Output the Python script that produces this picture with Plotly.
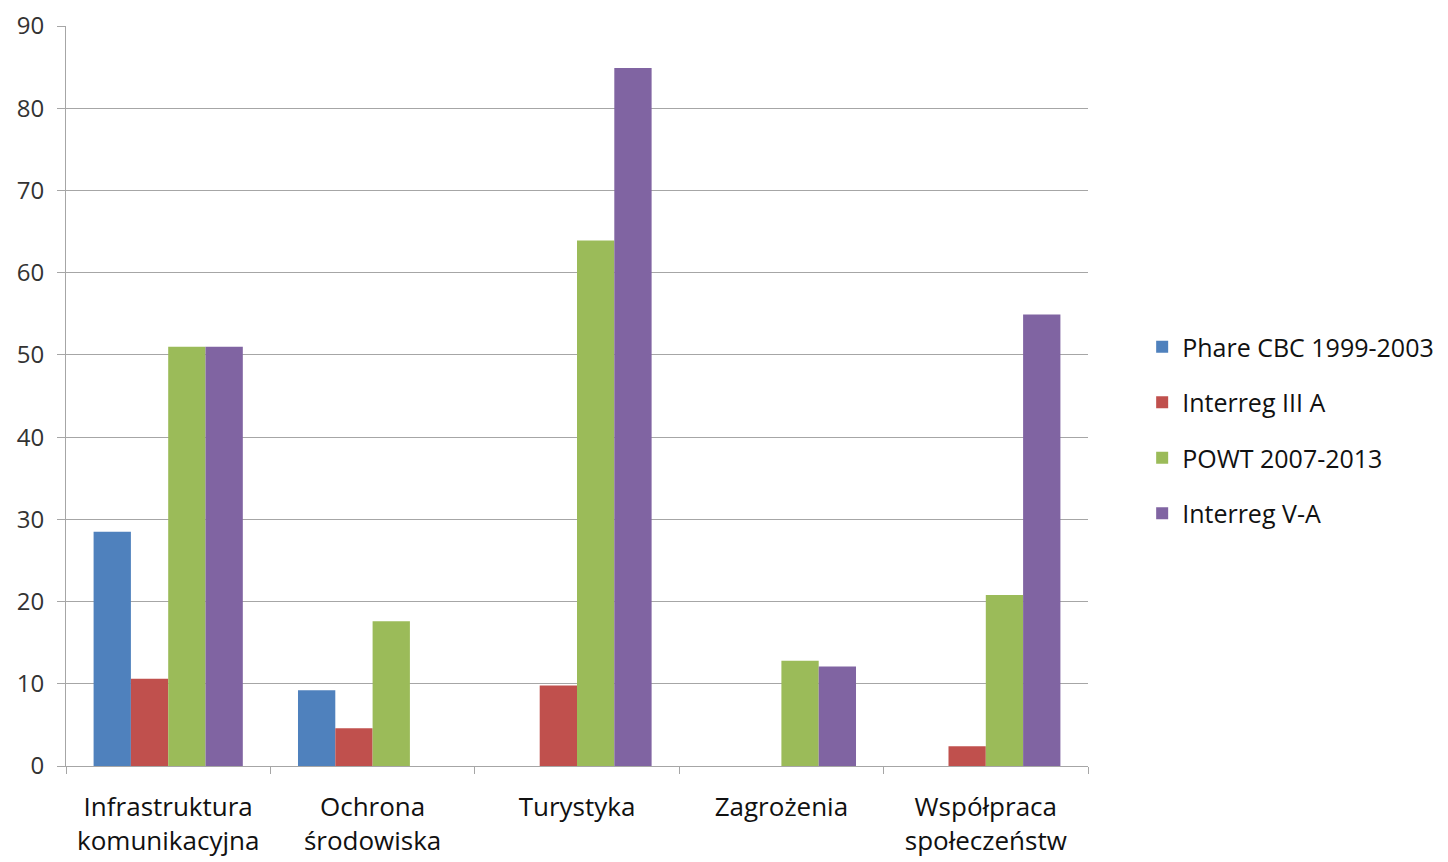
import plotly.graph_objects as go

categories = ['Infrastruktura<br>komunikacyjna', 'Ochrona<br>środowiska', 'Turystyka',
              'Zagrożenia', 'Współpraca<br>społeczeństw']
phare = [28.5, 9.2, 0, 0, 0]
interreg_3a = [10.6, 4.6, 9.8, 0, 2.4]
powt = [51, 17.6, 63.9, 12.8, 20.8]
interreg_5a = [51, 0, 84.9, 12.1, 54.9]

series = [
    ('Phare CBC 1999-2003', phare, '#4F81BD'),
    ('Interreg III A', interreg_3a, '#C0504D'),
    ('POWT 2007-2013', powt, '#9BBB59'),
    ('Interreg V-A', interreg_5a, '#8064A2'),
]

fig = go.Figure()
for name, vals, col in series:
    fig.add_trace(go.Bar(x=categories, y=vals, name=name, marker_color=col,
                         marker_line_width=0, legendgroup=name))

font = "Open Sans"
fig.update_layout(
    width=1448, height=862,
    margin=dict(t=18, l=58, r=368, b=104),
    plot_bgcolor='white', paper_bgcolor='white',
    barmode='group', bargap=0.27, bargroupgap=0,
    font=dict(family=font, size=22, color='#222222'),
    legend=dict(x=1.053, y=0.454, xanchor='left', yanchor='middle',
                font=dict(size=25, color='#111111'), tracegroupgap=20,
                itemwidth=30),
    showlegend=True,
)
fig.update_xaxes(showline=True, linecolor='#A6A6A6', linewidth=1, automargin=False,
                 ticks='outside', tickson='boundaries', ticklen=7, tickcolor='#A6A6A6',
                 ticklabelstandoff=18,
                 tickfont=dict(size=26, color='#111111'), showgrid=False)
fig.update_yaxes(range=[0, 90], dtick=10, showline=True, linecolor='#A6A6A6', linewidth=1,
                 automargin=False, ticks='outside', ticklen=8, tickcolor='#A6A6A6',
                 ticklabelstandoff=8, ticklabeloverflow='allow',
                 gridcolor='#A6A6A6', gridwidth=1, zeroline=False,
                 tickfont=dict(size=24, color='#333333'))

fig.write_html("out.html")
